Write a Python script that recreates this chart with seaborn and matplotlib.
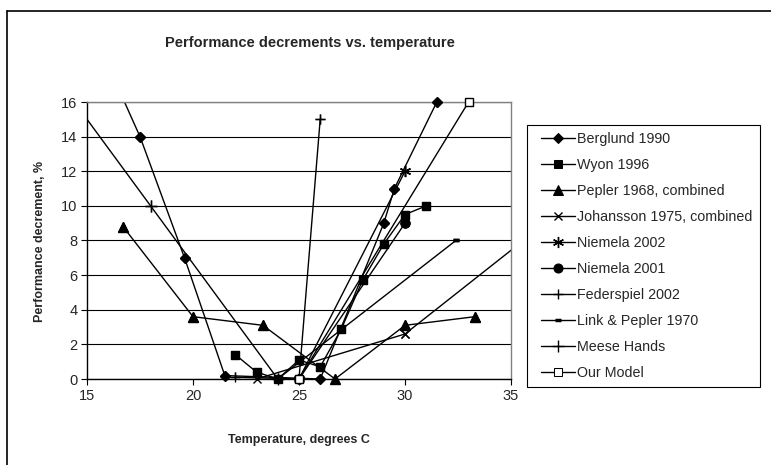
import matplotlib
matplotlib.use("Agg")
import matplotlib.pyplot as plt
import seaborn as sns
from matplotlib.lines import Line2D
from matplotlib.legend_handler import HandlerLine2D

# ---------------- data ----------------
berglund_t = [16.0, 17.5, 19.6, 21.5, 26.0, 29.0, 29.5, 31.5, 32.0]
berglund_d = [18.1, 14.0, 7.0, 0.2, 0.0, 9.0, 11.0, 16.0, 17.4]

wyon_t = [22.0, 23.0, 24.0, 25.0, 26.0, 27.0, 28.0, 29.0, 30.0, 31.0]
wyon_d = [1.4, 0.4, 0.0, 1.1, 0.7, 2.9, 5.7, 7.8, 9.5, 10.0]

pepler_t = [16.7, 20.0, 23.3, 26.7, 30.0, 33.3]
pepler_d = [8.8, 3.6, 3.1, 0.0, 3.1, 3.6]

johansson_t = [23.0, 30.0, 36.0]
johansson_d = [0.0, 2.6, 8.4]

niemela02_t = [25.0, 30.0]
niemela02_d = [0.0, 12.0]

niemela01_t = [25.0, 30.0]
niemela01_d = [0.0, 9.0]

federspiel_t = [22.0, 25.0, 26.0]
federspiel_d = [0.1, 0.0, 15.0]

link_t = [24.0, 32.4]
link_d = [0.0, 8.0]

meese_t = [12.0, 18.0, 24.0]
meese_d = [20.0, 10.0, 0.0]

model_t = [25.0, 33.0]
model_d = [0.0, 16.0]

series_names = ["Berglund 1990", "Wyon 1996", "Pepler 1968, combined",
                "Johansson 1975, combined", "Niemela 2002", "Niemela 2001",
                "Federspiel 2002", "Link & Pepler 1970", "Meese Hands", "Our Model"]

x_ticks = [15, 20, 25, 30, 35]
y_ticks = [0, 2, 4, 6, 8, 10, 12, 14, 16]

title = "Performance decrements vs. temperature"
x_label = "Temperature, degrees C"
y_label = "Performance decrement, %"

# ---------------- styling ----------------
sns.set_style("white")
plt.rcParams["font.family"] = ["Liberation Sans", "DejaVu Sans"]

W, H = 771, 465
fig = plt.figure(figsize=(W / 100, H / 100), dpi=100)
ax = fig.add_axes([87 / W, 1 - 379 / H, (511 - 87) / W, (379 - 102) / H])

XMIN, XMAX, YMIN, YMAX = 15, 35, 0, 16

data = [
    (berglund_t, berglund_d, dict(marker="D", markersize=5, markerfacecolor="black")),
    (wyon_t, wyon_d, dict(marker="s", markersize=6.3, markerfacecolor="black")),
    (pepler_t, pepler_d, dict(marker="^", markersize=7, markerfacecolor="black")),
    (johansson_t, johansson_d, dict(marker="x", markersize=6, markeredgewidth=1)),
    (niemela02_t, niemela02_d, dict(marker=(6, 2, 0), markersize=8, markeredgewidth=1)),
    (niemela01_t, niemela01_d, dict(marker="o", markersize=6.5, markerfacecolor="black")),
    (federspiel_t, federspiel_d, dict(marker="+", markersize=7, markeredgewidth=1)),
    (link_t, link_d, dict(marker="_", markersize=5, markeredgewidth=2.5)),
    (meese_t, meese_d, dict(marker="+", markersize=8, markeredgewidth=1)),
    (model_t, model_d, dict(marker="s", markersize=6.3, markerfacecolor="white")),
]

for name, (t, d, mk) in zip(series_names, data):
    kw = dict(markeredgecolor="black")
    kw.update(mk)
    # line (clipped to plot area) drawn by seaborn
    sns.lineplot(x=t, y=d, ax=ax, color="black", linewidth=1, sort=False,
                 estimator=None, label=name, **kw)
    # markers that sit on the plot-area edge are shown whole (as in the original)
    inside = [(a, b) for a, b in zip(t, d) if XMIN <= a <= XMAX and YMIN <= b <= YMAX]
    if inside:
        xs, ys = zip(*inside)
        mk_only = ax.plot(xs, ys, linestyle="none", color="black", **kw)[0]
        mk_only.set_clip_on(False)
        mk_only.set_zorder(3)

ax.set_xlim(XMIN, XMAX)
ax.set_ylim(YMIN, YMAX)
ax.set_xticks(x_ticks)
ax.set_yticks(y_ticks)
ax.set_xticklabels([str(v) for v in x_ticks], fontsize=10.5)
ax.set_yticklabels([str(v) for v in y_ticks], fontsize=10.5)
ax.tick_params(axis="both", direction="out", length=4, width=0.8, color="black",
               bottom=True, left=True, pad=3)
ax.set_xlabel("")
ax.set_ylabel("")

ax.yaxis.grid(True, color="black", linewidth=0.8)
ax.xaxis.grid(False)
ax.set_axisbelow(True)
for s in ["left", "bottom"]:
    ax.spines[s].set_color("black")
    ax.spines[s].set_linewidth(1.0)
for s in ["top", "right"]:
    ax.spines[s].set_color("#808080")
    ax.spines[s].set_linewidth(1.0)

# titles
fig.text(310 / W, 1 - 43 / H, title, ha="center", va="center",
         fontsize=10.5, fontweight="bold")
fig.text(299 / W, 1 - 440 / H, x_label, ha="center", va="center",
         fontsize=9, fontweight="bold")
fig.text(40 / W, 1 - 241 / H, y_label, ha="center", va="center",
         rotation=90, fontsize=9, fontweight="bold")

# legend
handles, labels = ax.get_legend_handles_labels()
handles, labels = handles[:len(series_names)], labels[:len(series_names)]
leg = ax.legend(handles, labels, loc="upper left",
                bbox_to_anchor=(527 / W, 1 - 125 / H), bbox_transform=fig.transFigure,
                borderaxespad=0, fontsize=10.3, frameon=True, fancybox=False,
                edgecolor="black", framealpha=1, borderpad=0.5, labelspacing=0.84,
                handlelength=2.85, handletextpad=0.15, numpoints=1,
                handler_map={Line2D: HandlerLine2D(xpad=0.45)})
leg.get_frame().set_linewidth(0.8)

# chart-area border (left and top edges visible)
fig.add_artist(Line2D([7 / W, 7 / W], [0, 1 - 11 / H], transform=fig.transFigure,
                      color="black", linewidth=1.2))
fig.add_artist(Line2D([7 / W, 1], [1 - 11 / H, 1 - 11 / H], transform=fig.transFigure,
                      color="black", linewidth=1.2))

fig.savefig("out.png", dpi=100)
